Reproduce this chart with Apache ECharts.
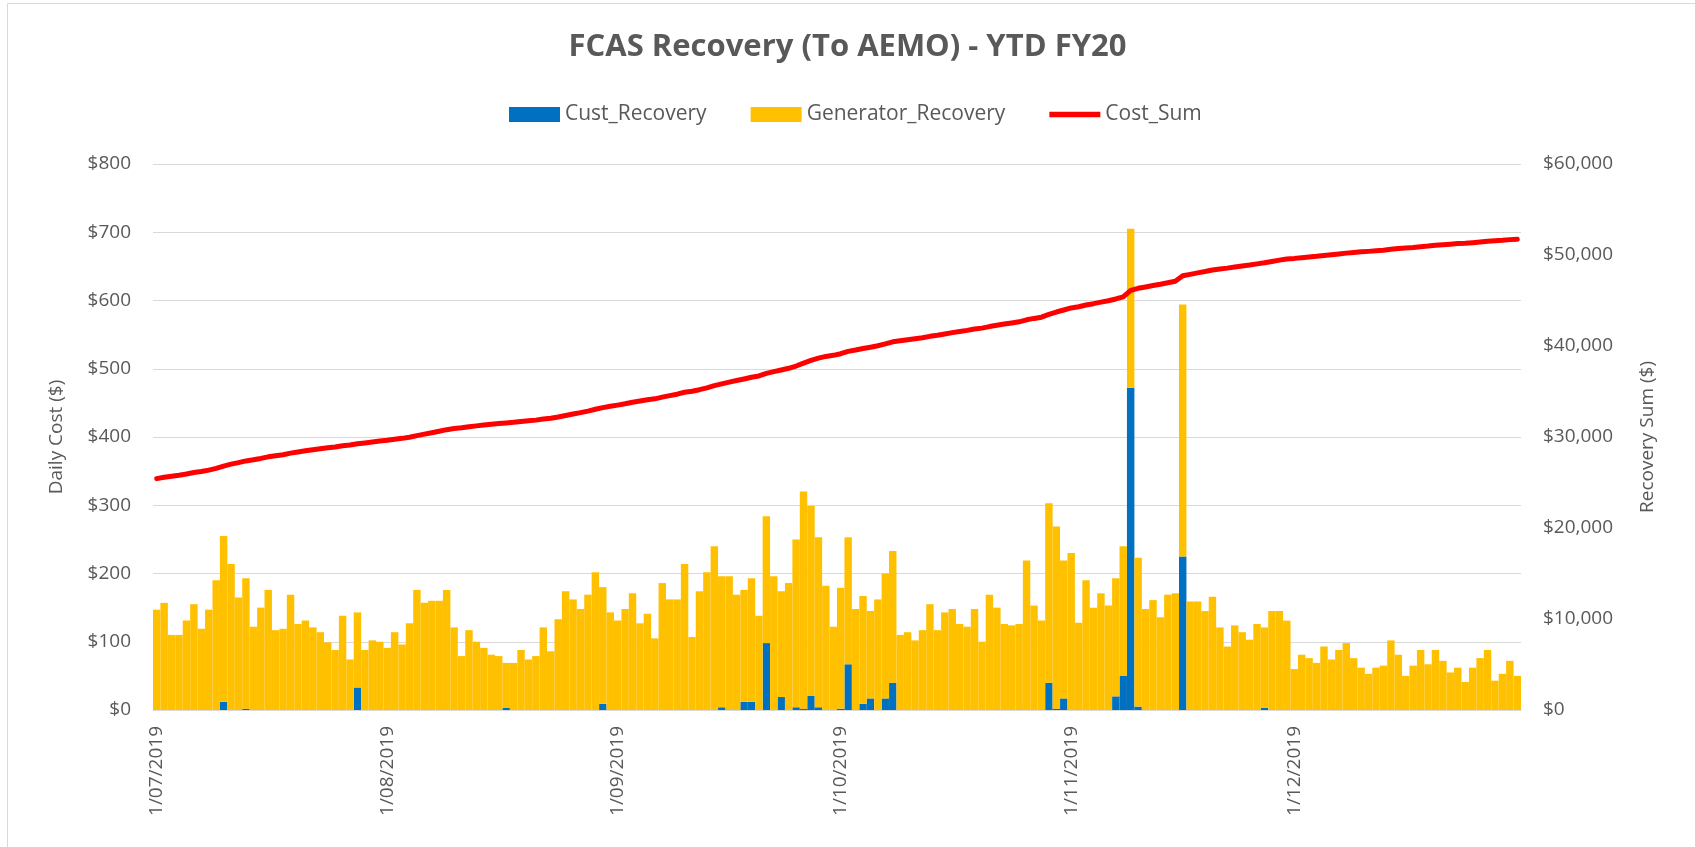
<!DOCTYPE html>
<html>
<head>
<meta charset="utf-8">
<title>FCAS Recovery</title>
<script src="https://cdn.jsdelivr.net/npm/echarts@6/dist/echarts.min.js"></script>
<style>
  html, body { margin: 0; padding: 0; background: #fff; }
  #chart { width: 1695px; height: 847px; }
</style>
</head>
<body>
<div id="chart"></div>
<script>
// daily values, 1/07/2019 .. 31/12/2019 (184 days)
const firstDay = [2019, 6, 1]
const dayCount = 184

// Cust_Recovery ($ per day)
const custRecovery = [
    0, 0, 0, 0, 0, 0, 0, 0, 0, 12,
    0, 0, 2, 0, 0, 0, 0, 0, 0, 0,
    0, 0, 0, 0, 0, 0, 0, 33, 0, 0,
    0, 0, 0, 0, 0, 0, 0, 0, 0, 0,
    0, 0, 0, 0, 0, 0, 0, 3, 0, 0,
    0, 0, 0, 0, 0, 0, 0, 0, 0, 0,
    9, 0, 0, 0, 0, 0, 0, 0, 0, 0,
    0, 0, 0, 0, 0, 0, 4, 0, 0, 12,
    12, 0, 98, 0, 19, 0, 4, 2, 21, 4,
    0, 0, 2, 67, 0, 9, 17, 0, 17, 40,
    0, 0, 0, 0, 0, 0, 0, 0, 0, 0,
    0, 0, 0, 0, 0, 0, 0, 0, 0, 0,
    40, 2, 17, 0, 0, 0, 0, 0, 0, 20,
    50, 472, 5, 0, 0, 0, 0, 0, 225, 0,
    0, 0, 0, 0, 0, 0, 0, 0, 0, 3,
    0, 0, 0, 0, 0, 0, 0, 0, 0, 0,
    0, 0, 0, 0, 0, 0, 0, 0, 0, 0,
    0, 0, 0, 0, 0, 0, 0, 0, 0, 0,
    0, 0, 0, 0
]

// Generator_Recovery ($ per day)
const generatorRecovery = [
    147, 157, 110, 110, 131, 155, 119, 147, 190, 243,
    214, 165, 191, 122, 150, 176, 117, 119, 169, 126,
    131, 121, 114, 99, 88, 138, 74, 110, 88, 102,
    100, 91, 114, 96, 127, 176, 157, 160, 160, 176,
    121, 79, 117, 100, 91, 81, 79, 66, 69, 88,
    74, 79, 121, 86, 133, 174, 162, 148, 169, 202,
    171, 143, 131, 148, 171, 127, 141, 105, 186, 162,
    162, 214, 107, 174, 202, 240, 192, 196, 169, 164,
    181, 138, 186, 196, 155, 186, 246, 318, 278, 249,
    182, 122, 177, 186, 148, 158, 128, 162, 183, 193,
    110, 114, 102, 117, 155, 117, 143, 148, 126, 122,
    148, 100, 169, 150, 126, 124, 126, 219, 153, 131,
    263, 267, 202, 230, 128, 190, 150, 171, 153, 173,
    190, 233, 218, 148, 161, 136, 169, 171, 369, 159,
    159, 145, 166, 121, 93, 124, 114, 103, 126, 118,
    145, 145, 131, 60, 81, 76, 69, 93, 74, 88,
    98, 76, 62, 53, 62, 65, 102, 81, 50, 65,
    88, 67, 88, 72, 55, 62, 41, 62, 76, 88,
    43, 53, 72, 50
]

// Cost_Sum is the running total, carried in from before 1/07/2019
const openingSum = 25280

// tick labels
const leftTicks = [0, 100, 200, 300, 400, 500, 600, 700, 800]
const rightTicks = [0, 10000, 20000, 30000, 40000, 50000, 60000]

// categories: d/mm/yyyy
const dates = []
for (let i = 0; i < dayCount; i++) {
    const d = new Date(firstDay[0], firstDay[1], firstDay[2] + i)
    const mm = String(d.getMonth() + 1).padStart(2, '0')
    dates.push(d.getDate() + '/' + mm + '/' + d.getFullYear())
}

const costSum = []
let running = openingSum
for (let i = 0; i < dayCount; i++) {
    running += custRecovery[i] + generatorRecovery[i]
    costSum.push(running)
}

const isMonthStart = (index, value) => value.split('/')[0] === '1'
const grey = '#595959'
const gridGrey = '#d9d9d9'
const font = 'Open Sans'

const mychart = echarts.init(document.getElementById('chart'))
const option = {
    animation: false,
    textStyle: { fontFamily: font },
    graphic: [{
        type: 'rect',
        shape: { x: 7.5, y: 3.5, width: 1720, height: 900 },
        style: { fill: 'none', stroke: gridGrey, lineWidth: 1 },
        silent: true
    }],
    title: {
        text: 'FCAS Recovery (To AEMO) - YTD FY20',
        left: 'center',
        top: 27,
        textStyle: { color: grey, fontSize: 31, fontWeight: 'bold', fontFamily: font }
    },
    legend: {
        left: 504,
        top: 99,
        itemWidth: 51,
        itemHeight: 15,
        itemGap: 44,
        textStyle: { color: grey, fontSize: 21, fontFamily: font },
        data: [
            { name: 'Cust_Recovery', icon: 'rect' },
            { name: 'Generator_Recovery', icon: 'rect' },
            { name: 'Cost_Sum', icon: 'path://M0 0H54V6H0Z' }
        ]
    },
    grid: {
        left: 153,
        right: 174,
        top: 164,
        bottom: 137
    },
    xAxis: {
        type: 'category',
        data: dates,
        boundaryGap: true,
        axisLine: { lineStyle: { color: gridGrey, width: 1 } },
        axisTick: { interval: isMonthStart, length: 7, lineStyle: { color: gridGrey } },
        axisLabel: {
            interval: isMonthStart,
            rotate: 90,
            margin: 16,
            color: grey,
            fontSize: 19,
            fontFamily: font
        }
    },
    yAxis: [{
        type: 'value',
        min: leftTicks[0],
        max: leftTicks[leftTicks.length - 1],
        interval: leftTicks[1] - leftTicks[0],
        name: 'Daily Cost ($)',
        nameLocation: 'middle',
        nameGap: 87,
        nameTextStyle: { color: grey, fontSize: 19, fontFamily: font },
        axisLabel: { color: grey, fontSize: 19, margin: 22, formatter: v => '$' + v },
        axisLine: { show: false },
        axisTick: { show: false },
        splitLine: { lineStyle: { color: gridGrey, width: 1 } }
    }, {
        type: 'value',
        min: rightTicks[0],
        max: rightTicks[rightTicks.length - 1],
        interval: rightTicks[1] - rightTicks[0],
        name: 'Recovery Sum ($)',
        nameLocation: 'middle',
        nameGap: 117,
        nameTextStyle: { color: grey, fontSize: 19, fontFamily: font },
        axisLabel: { color: grey, fontSize: 19, margin: 22, formatter: v => '$' + v.toLocaleString('en-US') },
        axisLine: { show: false },
        axisTick: { show: false },
        splitLine: { show: false }
    }],
    series: [{
        name: 'Cust_Recovery',
        type: 'bar',
        stack: 'daily',
        barCategoryGap: '0%',
        itemStyle: { color: '#0070c0' },
        data: custRecovery
    }, {
        name: 'Generator_Recovery',
        type: 'bar',
        stack: 'daily',
        barCategoryGap: '0%',
        itemStyle: { color: '#ffc000' },
        data: generatorRecovery
    }, {
        name: 'Cost_Sum',
        type: 'line',
        yAxisIndex: 1,
        symbol: 'none',
        z: 5,
        itemStyle: { color: '#ff0000' },
        lineStyle: { color: '#ff0000', width: 5, cap: 'round', join: 'round' },
        data: costSum
    }]
}
mychart.setOption(option)
</script>
</body>
</html>
